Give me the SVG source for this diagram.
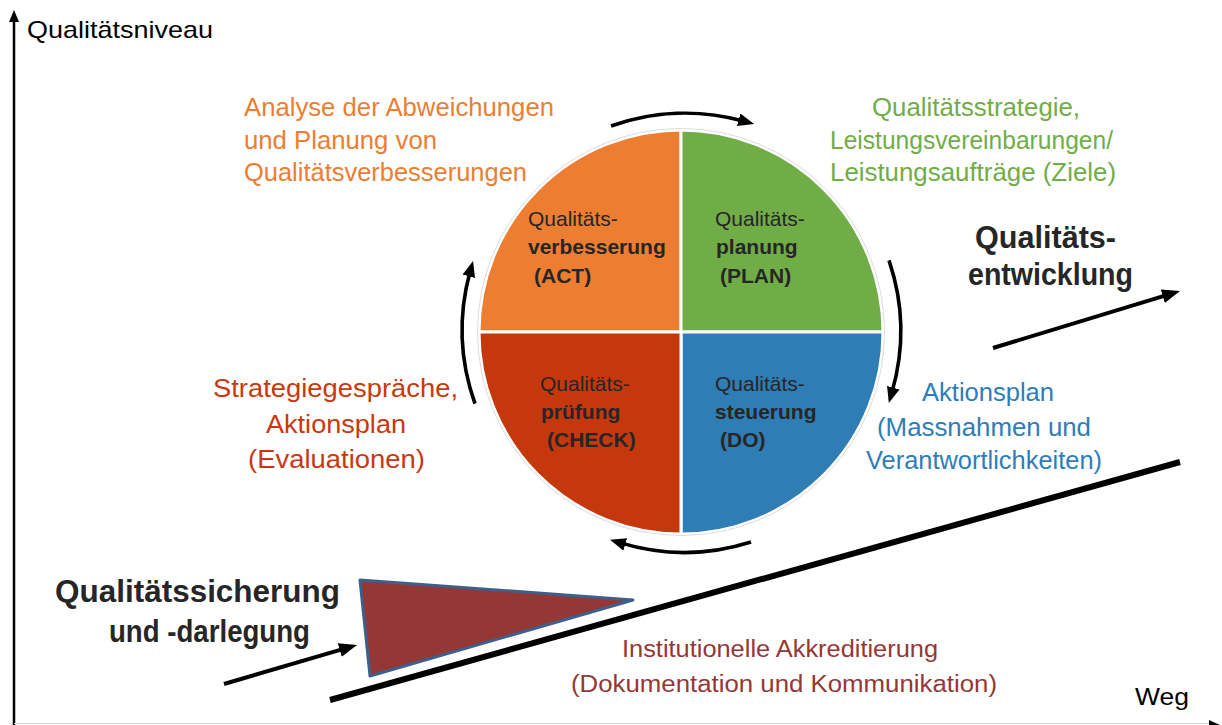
<svg xmlns="http://www.w3.org/2000/svg" width="1222" height="725" viewBox="0 0 1222 725">
<style>
text{font-family:"Liberation Sans",Arial,sans-serif}
.ax{font-size:24px;fill:#000}
.or{font-size:25px;fill:#ED7D31}
.gr{font-size:25px;fill:#70AD47}
.rd{font-size:25px;fill:#C9380E}
.bl{font-size:25px;fill:#2E7DB8}
.ak{font-size:23px;fill:#953735}
.big{font-size:31px;font-weight:bold;fill:#262626}
.q{font-size:21px;fill:#262626}
.qb{font-size:21px;font-weight:bold;fill:#262626}
.seg{stroke:#fff;stroke-width:3}
.arc{fill:none;stroke:#000;stroke-width:3.6;marker-end:url(#ah)}
.ln{fill:none;stroke:#000;stroke-width:4;marker-end:url(#ahL)}
</style>
<defs>
<marker id="ah" viewBox="0 0 16 13" refX="5" refY="6.5" markerWidth="16" markerHeight="13" orient="auto" markerUnits="userSpaceOnUse"><path d="M0,0 L16,6.5 L0,13 z" fill="#000"/></marker>
<marker id="ahL" viewBox="0 0 18 14" refX="4" refY="7" markerWidth="18" markerHeight="14" orient="auto" markerUnits="userSpaceOnUse"><path d="M0,0 L18,7 L0,14 z" fill="#000"/></marker>
<marker id="ahA" viewBox="0 0 12 10" refX="2" refY="5" markerWidth="12" markerHeight="10" orient="auto" markerUnits="userSpaceOnUse"><path d="M0,0 L12,5 L0,10 z" fill="#000"/></marker>
</defs>
<rect width="1222" height="725" fill="#fff"/>
<g id="axes">
<line x1="14" y1="725" x2="14" y2="20" stroke="#000" stroke-width="2.5" marker-end="url(#ahA)"/>
<line x1="14" y1="723.5" x2="1210" y2="723.5" stroke="#d4d4d4" stroke-width="1"/>
<path d="M1209,720 L1222,726 L1209,732 z" fill="#000"/>
<text class="ax" x="27" y="38" textLength="186" lengthAdjust="spacingAndGlyphs">Qualitätsniveau</text>
<text class="ax" x="1135" y="705" textLength="54" lengthAdjust="spacingAndGlyphs">Weg</text>
</g>
<g id="act">
<path d="M681,332 L479,332 A202,202 0 0 1 681,130 Z" fill="#ED7D31" class="seg"/>
<text class="q" x="528" y="226">Qualitäts-</text>
<text class="qb" x="528" y="254">verbesserung</text>
<text class="qb" x="534" y="283">(ACT)</text>
</g>
<g id="plan">
<path d="M681,332 L681,130 A202,202 0 0 1 883,332 Z" fill="#70AD47" class="seg"/>
<text class="q" x="715" y="226">Qualitäts-</text>
<text class="qb" x="716" y="254">planung</text>
<text class="qb" x="720" y="283">(PLAN)</text>
</g>
<g id="do">
<path d="M681,332 L883,332 A202,202 0 0 1 681,534 Z" fill="#2E7DB5" class="seg"/>
<text class="q" x="715" y="391">Qualitäts-</text>
<text class="qb" x="715" y="419">steuerung</text>
<text class="qb" x="720" y="447">(DO)</text>
</g>
<g id="check">
<path d="M681,332 L681,534 A202,202 0 0 1 479,332 Z" fill="#C5380D" class="seg"/>
<text class="q" x="540" y="391">Qualitäts-</text>
<text class="qb" x="541" y="419">prüfung</text>
<text class="qb" x="547" y="447">(CHECK)</text>
</g>
<circle cx="681" cy="332" r="203.5" fill="none" stroke="#dcdcdc" stroke-width="1"/>
<g id="label-act">
<text class="or" x="244" y="116" textLength="310" lengthAdjust="spacingAndGlyphs">Analyse der Abweichungen</text>
<text class="or" x="244" y="149" textLength="193" lengthAdjust="spacingAndGlyphs">und Planung von</text>
<text class="or" x="244" y="181" textLength="283" lengthAdjust="spacingAndGlyphs">Qualitätsverbesserungen</text>
</g>
<g id="label-plan">
<text class="gr" x="872" y="116" textLength="208" lengthAdjust="spacingAndGlyphs">Qualitätsstrategie,</text>
<text class="gr" x="830" y="149" textLength="283" lengthAdjust="spacingAndGlyphs">Leistungsvereinbarungen/</text>
<text class="gr" x="830" y="181" textLength="286" lengthAdjust="spacingAndGlyphs">Leistungsaufträge (Ziele)</text>
</g>
<g id="label-check">
<text class="rd" x="213" y="397" textLength="245" lengthAdjust="spacingAndGlyphs">Strategiegespräche,</text>
<text class="rd" x="266" y="433" textLength="140" lengthAdjust="spacingAndGlyphs">Aktionsplan</text>
<text class="rd" x="248" y="468" textLength="177" lengthAdjust="spacingAndGlyphs">(Evaluationen)</text>
</g>
<g id="label-do">
<text class="bl" x="922" y="401" textLength="132" lengthAdjust="spacingAndGlyphs">Aktionsplan</text>
<text class="bl" x="877" y="436" textLength="214" lengthAdjust="spacingAndGlyphs">(Massnahmen und</text>
<text class="bl" x="866" y="469" textLength="236" lengthAdjust="spacingAndGlyphs">Verantwortlichkeiten)</text>
</g>
<g id="entwicklung">
<text class="big" x="975" y="248" textLength="141" lengthAdjust="spacingAndGlyphs">Qualitäts-</text>
<text class="big" x="968" y="285" textLength="165" lengthAdjust="spacingAndGlyphs">entwicklung</text>
</g>
<g id="sicherung">
<text class="big" x="55" y="602" textLength="285" lengthAdjust="spacingAndGlyphs">Qualitätssicherung</text>
<text class="big" x="109" y="642" textLength="201" lengthAdjust="spacingAndGlyphs">und -darlegung</text>
</g>
<g id="triangle">
<path d="M360,580 L633,600 L370,676 Z" fill="#953735" stroke="#3E5F8A" stroke-width="3" stroke-linejoin="round"/>
</g>
<g id="akkreditierung">
<text class="ak" x="622" y="657" textLength="316" lengthAdjust="spacingAndGlyphs">Institutionelle Akkreditierung</text>
<text class="ak" x="571" y="692" textLength="426" lengthAdjust="spacingAndGlyphs">(Dokumentation und Kommunikation)</text>
</g>
<g id="connectors">
<path class="arc" d="M611,126 A220,220 0 0 1 743.5,121.1"/>
<path class="arc" d="M889,260.4 A220,220 0 0 1 891.9,392.5"/>
<path class="arc" d="M751,542 A220,220 0 0 1 620.5,542.9"/>
<path class="arc" d="M475,403.6 A220,220 0 0 1 470.1,271.5"/>
<line class="ln" x1="993" y1="348" x2="1166.6" y2="295.1"/>
<line class="ln" x1="224" y1="684" x2="343.6" y2="648.9"/>
<line x1="330" y1="700" x2="1180" y2="462" stroke="#000" stroke-width="6"/>
</g>
</svg>
